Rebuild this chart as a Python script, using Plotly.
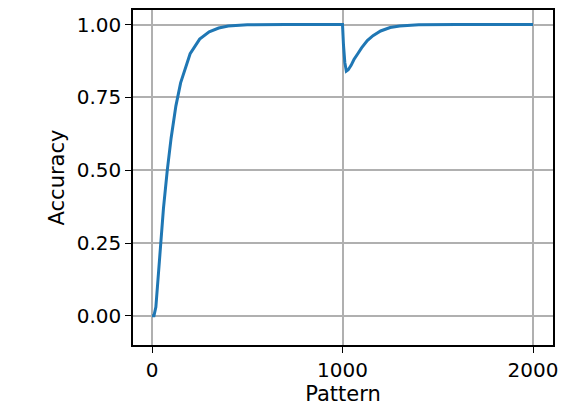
import plotly.graph_objects as go

pattern = [0, 10, 20, 40, 60, 80, 100, 125, 150, 200, 250, 300, 350, 400, 500, 700, 1000, 1005, 1012, 1020, 1030, 1045, 1060, 1080, 1100, 1130, 1160, 1200, 1250, 1300, 1400, 1600, 2000]
accuracy = [0.0, 0.0, 0.03, 0.2, 0.37, 0.5, 0.61, 0.72, 0.8, 0.9, 0.95, 0.975, 0.988, 0.995, 0.999, 1.0, 1.0, 0.93, 0.87, 0.84, 0.845, 0.86, 0.88, 0.9, 0.92, 0.945, 0.962, 0.978, 0.99, 0.995, 0.999, 1.0, 1.0]

fig = go.Figure(go.Scatter(x=pattern, y=accuracy, mode="lines",
                           line=dict(color="#1f77b4", width=3)))
axis_common = dict(showline=True, linecolor="black", linewidth=1.5, mirror=True,
                   showgrid=True, gridcolor="#b0b0b0", gridwidth=1.5,
                   ticks="outside", ticklen=6, tickcolor="black", zeroline=False,
                   tickfont=dict(size=20, family="DejaVu Sans", color="black"))
fig.update_xaxes(range=[-100, 2105], tickvals=[0, 1000, 2000],
                 title=dict(text="Pattern", font=dict(size=21, family="DejaVu Sans", color="black"), standoff=4),
                 **axis_common)
fig.update_yaxes(range=[-0.1, 1.05], tickvals=[0, 0.25, 0.5, 0.75, 1.0], tickformat=".2f",
                 title=dict(text="Accuracy", font=dict(size=21, family="DejaVu Sans", color="black"), standoff=6),
                 **axis_common)
fig.update_layout(width=554, height=404, plot_bgcolor="white", paper_bgcolor="white",
                  margin=dict(l=125, r=9, t=0, b=67), showlegend=False)
fig.write_html("out.html")
